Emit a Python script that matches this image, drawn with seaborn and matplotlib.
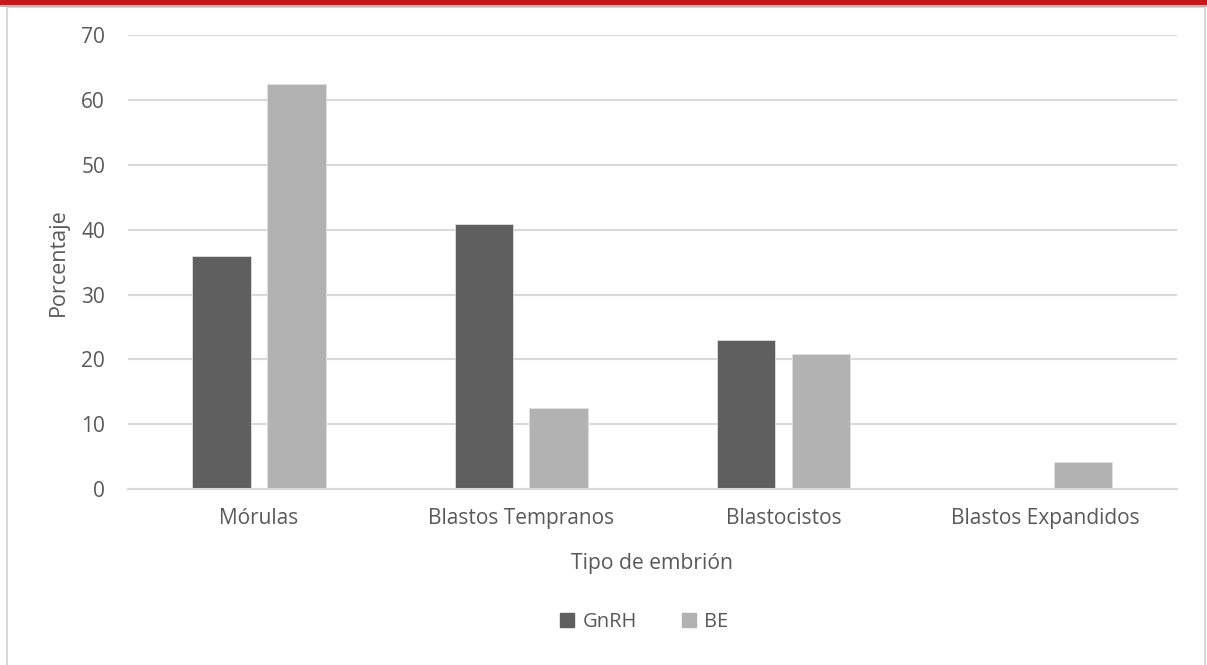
import pandas as pd
import matplotlib.pyplot as plt
import seaborn as sns
from matplotlib.patches import Rectangle
from matplotlib.lines import Line2D

# Data
categorias = ['Mórulas', 'Blastos Tempranos', 'Blastocistos', 'Blastos Expandidos']
gnrh = [36.0, 40.9, 23.0, 0.0]
be = [62.5, 12.5, 20.8, 4.2]
grupos = ['GnRH', 'BE']
colores = ['#5f5f5f', '#b2b2b2']

df = pd.DataFrame({
    'categoria': categorias * 2,
    'grupo': [grupos[0]] * len(categorias) + [grupos[1]] * len(categorias),
    'valor': gnrh + be,
})

sns.set_theme(style='white')
plt.rcParams['font.family'] = ['Open Sans', 'DejaVu Sans']
texto = '#595959'

fig = plt.figure(figsize=(12.07, 6.65), dpi=100)
ax = fig.add_axes([0.106, 0.2647, 0.869, 0.6823])

sns.barplot(data=df, x='categoria', y='valor', hue='grupo', order=categorias,
            hue_order=grupos, palette=colores, width=0.57, gap=0.216,
            edgecolor='#e0e0e0', linewidth=0.6, ax=ax, legend=False)

ax.set_ylim(0, 70)
ax.set_yticks(range(0, 71, 10))
ax.set_xlim(-0.5, len(categorias) - 0.5)
ax.yaxis.grid(True, color='#d9d9d9', linewidth=1.5)
ax.set_axisbelow(True)
for s in ['top', 'right', 'left']:
    ax.spines[s].set_visible(False)
ax.spines['bottom'].set_color('#d9d9d9')
ax.spines['bottom'].set_linewidth(1.5)
ax.tick_params(axis='both', length=0, colors=texto, labelsize=15)
ax.tick_params(axis='y', pad=16.5)
ax.tick_params(axis='x', pad=14)

ax.set_xlabel('Tipo de embrión', fontsize=15.2, color=texto, labelpad=17)
ax.set_ylabel('Porcentaje', fontsize=15.5, color=texto, labelpad=9)

handles = [Line2D([], [], marker='s', linestyle='none', markersize=10,
                  markerfacecolor=c, markeredgecolor=c) for c in colores]
fig.legend(handles, grupos, loc='center', bbox_to_anchor=(0.5336, 0.0647), ncol=2,
           frameon=False, fontsize=14.5, labelcolor=texto, handlelength=0.8,
           handletextpad=0.35, columnspacing=2.2)

# marco y linea roja superior
fig.patches.append(Rectangle((7 / 1207, -0.01), 1198 / 1207, 1.0, transform=fig.transFigure,
                             fill=False, edgecolor='#d9d9d9', linewidth=1.5))
fig.patches.append(Rectangle((0, 1 - 5 / 665), 1, 5 / 665, transform=fig.transFigure,
                             facecolor='#c8161d', edgecolor='none'))
fig.patches.append(Rectangle((0, 1 - 7 / 665), 1, 2 / 665, transform=fig.transFigure,
                             facecolor='#e8a0a4', edgecolor='none'))

fig.savefig('out.png', dpi=100)
